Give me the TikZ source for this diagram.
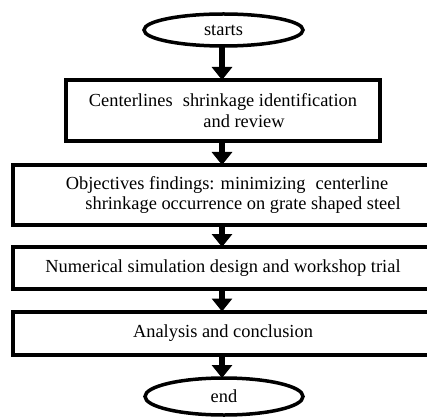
\documentclass[tikz,border=0pt]{standalone}
\usepackage{fontspec}
\setmainfont{Liberation Serif}
\usetikzlibrary{arrows.meta,shapes.geometric}
\begin{document}
\begin{tikzpicture}[x=1pt,y=-1pt,
  every node/.style={font=\fontsize{18.4}{20.5}\selectfont, inner sep=0pt, outer sep=0pt},
  stepbox/.style={draw, line width=4pt, rectangle, align=center},
  termin/.style={draw, line width=3.5pt, ellipse, align=center},
  flow/.style={line width=6pt, -{Triangle[width=20pt,length=13pt]}}]
\clip (0,0) rectangle (427,419);
\fill[white] (0,0) rectangle (427,419);
\node[termin, minimum width=159pt, minimum height=32pt] (start) at (223.5,30) {starts};
\node[stepbox, minimum width=314pt, minimum height=61pt] (b1) at (223,110.5)
  {Centerlines\hspace{0.3em} shrinkage identification\\\hspace*{42pt}and review};
\node[stepbox, minimum width=420pt, minimum height=60pt] (b2) at (223,195)
  {\hspace*{8pt}Objectives findings: minimizing\hspace{0.3em} centerline\\\hspace*{40pt}shrinkage occurrence on grate shaped steel};
\node[stepbox, minimum width=420pt, minimum height=42pt] (b3) at (223,268)
  {Numerical simulation design and workshop trial};
\node[stepbox, minimum width=420pt, minimum height=43pt] (b4) at (223,333)
  {Analysis and conclusion};
\node[termin, minimum width=158pt, minimum height=37pt] (end) at (224,396.5) {end};
\draw[flow] (start.south -| 222,0) -- (b1.north -| 222,0);
\draw[flow] (b1.south -| 222,0) -- (b2.north -| 222,0);
\draw[flow] (b2.south -| 222,0) -- (b3.north -| 222,0);
\draw[flow] (b3.south -| 222,0) -- (b4.north -| 222,0);
\draw[flow] (b4.south -| 222,0) -- (end.north -| 222,0);
\end{tikzpicture}
\end{document}
